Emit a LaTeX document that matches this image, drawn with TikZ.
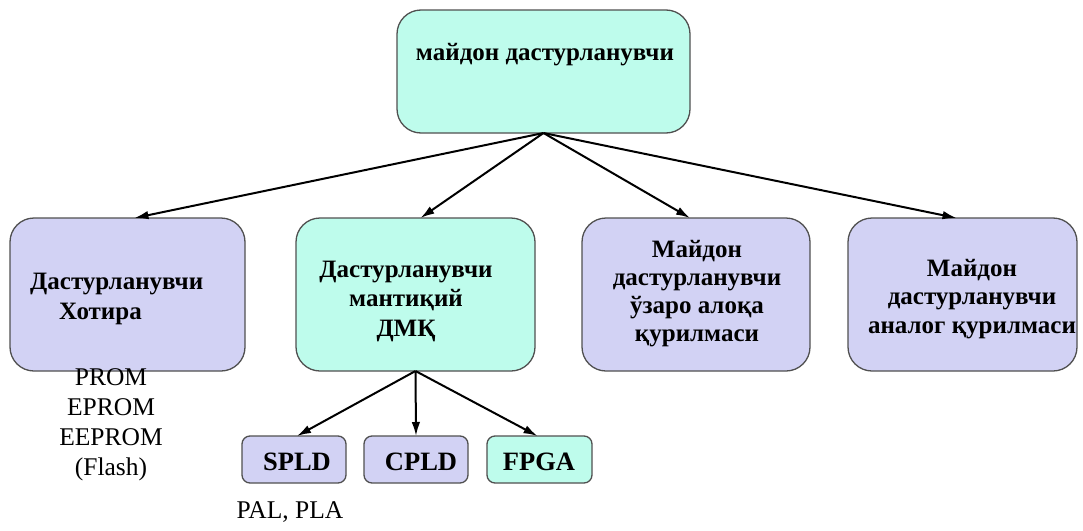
\documentclass[tikz,border=0pt]{standalone}
\usepackage{fontspec}
\setmainfont{Liberation Serif}
\usetikzlibrary{arrows.meta}
\definecolor{lav}{RGB}{210,210,244}
\definecolor{cya}{RGB}{190,252,236}
\definecolor{edge}{RGB}{80,80,80}
\tikzset{
  bigbox/.style={draw=edge, line width=1.3pt, rounded corners=24pt, inner sep=0pt, outer sep=0pt},
  smallbox/.style={draw=edge, line width=1.3pt, rounded corners=8pt, inner sep=0pt, outer sep=0pt,
     minimum width=104pt, minimum height=47pt},
  smalltxt/.style={font=\fontsize{26.5}{30}\selectfont\bfseries, inner sep=0pt},
  lbl/.style={font=\fontsize{25}{29.5}\selectfont\bfseries, align=center, inner sep=0pt},
  plain/.style={font=\fontsize{25.5}{30}\selectfont, align=center, inner sep=0pt},
  arr/.style={-{Latex[length=14pt,width=8.5pt]}, line width=2pt, black}
}
\begin{document}
\begin{tikzpicture}[x=1pt,y=-1pt]
\useasboundingbox (0,0) rectangle (1083,530);
% boxes
\node[bigbox, fill=cya, minimum width=293pt, minimum height=123pt] (top) at (543.5,71.5) {};
\node[bigbox, fill=lav, minimum width=235pt, minimum height=153pt] (b1) at (127.5,294.5) {};
\node[bigbox, fill=cya, minimum width=239pt, minimum height=153pt] (b2) at (415.5,294.5) {};
\node[bigbox, fill=lav, minimum width=228pt, minimum height=153pt] (b3) at (696,294.5) {};
\node[bigbox, fill=lav, minimum width=229pt, minimum height=153pt] (b4) at (962.5,294.5) {};
\node[smallbox, fill=lav] (spld) at (294,459.5) {};
\node[smallbox, fill=lav] (cpld) at (416,459.5) {};
\node[smallbox, fill=cya, minimum width=105pt] (fpga) at (539.5,459.5) {};
% labels
\node[smalltxt] (tspld) at (297,462) {SPLD};
\node[smalltxt] (tcpld) at (421,462) {CPLD};
\node[smalltxt] (tfpga) at (539,462) {FPGA};
\node[lbl] (ttop) at (545,55) {майдон дастурланувчи};
\node[lbl, align=left, anchor=west] (t1) at (30,299) {Дастурланувчи\\\hspace*{29pt}Хотира};
\node[lbl] (t2) at (406,301) {Дастурланувчи\\мантиқий\\ДМҚ};
\node[lbl, font=\fontsize{25}{28}\selectfont\bfseries] (t3) at (697,294) {Майдон\\дастурланувчи\\ўзаро алоқа\\қурилмаси};
\node[lbl, font=\fontsize{25}{28.5}\selectfont\bfseries] (t4) at (972,299) {Майдон\\дастурланувчи\\аналог қурилмаси};
\node[plain] (mem) at (111,425) {PROM\\EPROM\\EEPROM\\(Flash)};
\node[plain] (pal) at (290,512) {PAL, PLA};
% connectors
\draw[arr] (top.south) -- ([xshift=7pt]b1.north);
\draw[arr] (top.south) -- ([xshift=5pt]b2.north);
\draw[arr] (top.south) -- ([xshift=-6pt]b3.north);
\draw[arr] (top.south) -- ([xshift=-6pt]b4.north);
\draw[arr] (b2.south) -- ([xshift=3pt]spld.north);
\draw[arr] (b2.south) -- (cpld.north);
\draw[arr] (b2.south) -- ([xshift=-2pt]fpga.north);
\end{tikzpicture}
\end{document}
